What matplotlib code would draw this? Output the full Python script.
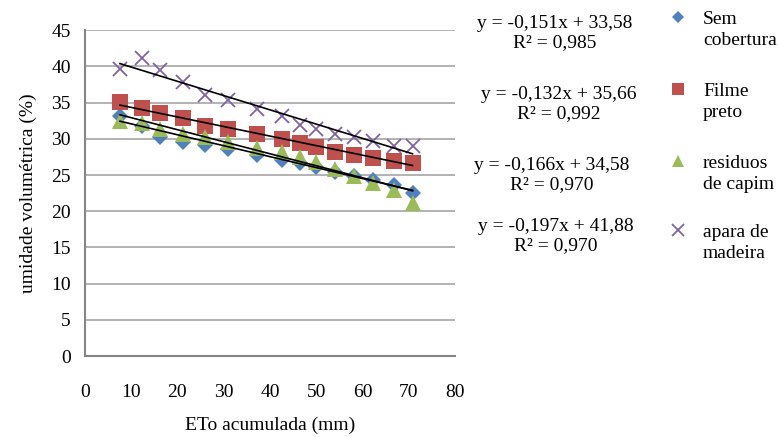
import matplotlib
matplotlib.use("Agg")
import matplotlib.pyplot as plt
from matplotlib.lines import Line2D

# Data
eto = [7.6, 12.3, 16.2, 21.3, 25.9, 30.9, 37.1, 42.5, 46.5, 50.0, 54.0, 58.2, 62.3, 66.7, 70.8]
sem_cobertura = [33.2, 31.8, 30.2, 29.6, 29.1, 28.6, 27.7, 27.1, 26.6, 26.1, 25.4, 24.9, 24.3, 23.6, 22.5]
filme_preto = [35.1, 34.3, 33.5, 32.9, 31.8, 31.3, 30.6, 30.0, 29.4, 28.9, 28.2, 27.7, 27.4, 27.0, 26.6]
residuos_capim = [32.4, 32.2, 31.4, 30.7, 30.2, 29.6, 28.8, 28.2, 27.5, 26.8, 25.8, 24.9, 23.9, 22.9, 21.2]
apara_madeira = [39.7, 41.1, 39.5, 37.9, 36.0, 35.4, 34.1, 33.2, 31.9, 31.3, 30.6, 30.3, 29.7, 29.0, 29.0]

series_names = ["Sem\ncobertura", "Filme\npreto", "residuos\nde capim", "apara de\nmadeira"]
series_values = [sem_cobertura, filme_preto, residuos_capim, apara_madeira]
slopes = [-0.151, -0.132, -0.166, -0.197]
intercepts = [33.58, 35.66, 34.58, 41.88]
r2 = ["0,985", "0,992", "0,970", "0,970"]

colors = ["#4F81BD", "#C0504D", "#9BBB59", "#8064A2"]
markers = ["D", "s", "^", "x"]
msizes = [8, 11, 11, 10.5]

plt.rcParams["font.family"] = ["Liberation Serif", "DejaVu Serif"]
plt.rcParams["font.size"] = 14

fig = plt.figure(figsize=(7.78, 4.37), dpi=100)
ax = fig.add_axes([0.109, 0.185, 0.476, 0.746])

for vals, c, m, ms in zip(series_values, colors, markers, msizes):
    if m == "x":
        ax.plot(eto, vals, linestyle="none", marker=m, markersize=ms, color=c,
                markeredgewidth=1.3, zorder=3)
    else:
        ax.plot(eto, vals, linestyle="none", marker=m, markersize=ms, color=c,
                markeredgewidth=0, zorder=3)

# Trend lines from the fitted equations
for a, b in zip(slopes, intercepts):
    xs = [eto[0], eto[-1]]
    ax.plot(xs, [a * x + b for x in xs], color="black", linewidth=1.2, zorder=4)

ax.set_xlim(0, 80)
ax.set_ylim(0, 45)
ax.set_xticks(range(0, 81, 10))
ax.set_yticks(range(0, 46, 5))
ax.grid(axis="y", color="#A6A6A6", linewidth=1.2)
ax.set_axisbelow(True)
for side in ["top", "right"]:
    ax.spines[side].set_visible(False)
for side in ["left", "bottom"]:
    ax.spines[side].set_color("#868686")
    ax.spines[side].set_linewidth(1.5)
ax.tick_params(axis="both", length=0)
ax.tick_params(axis="x", pad=20)
ax.tick_params(axis="y", pad=10)
ax.set_xlabel("ETo acumulada (mm)", labelpad=11)
ax.set_ylabel("umidade volumétrica (%)", labelpad=10)

# Trendline equations
eq_x = [555, 559, 552, 556]
eq_y = [22, 93, 164, 225]
W, H = 778, 437
for a, b, r, ex, ey in zip(slopes, intercepts, r2, eq_x, eq_y):
    txt = "y = {}x + {}\nR² = {}".format(f"{a:.3f}".replace(".", ","),
                                        f"{b:.2f}".replace(".", ","), r)
    fig.text(ex / W, 1 - (ey - 7) / H, txt, ha="center", va="top",
             linespacing=1.15)

# Legend drawn by hand, marker beside first line of each label
leg_y = [17, 89, 161, 230]
for name, c, m, ms, ly in zip(series_names, colors, markers, msizes, leg_y):
    kw = dict(markeredgewidth=1.3) if m == "x" else dict(markeredgewidth=0)
    fig.add_artist(Line2D([678 / W], [1 - ly / H], transform=fig.transFigure,
                          marker=m, markersize=ms * 0.8, color=c,
                          linestyle="none", **kw))
    fig.text(703 / W, 1 - (ly - 6) / H, name, ha="left", va="top",
             linespacing=1.3)

fig.savefig("out.png", dpi=100)
